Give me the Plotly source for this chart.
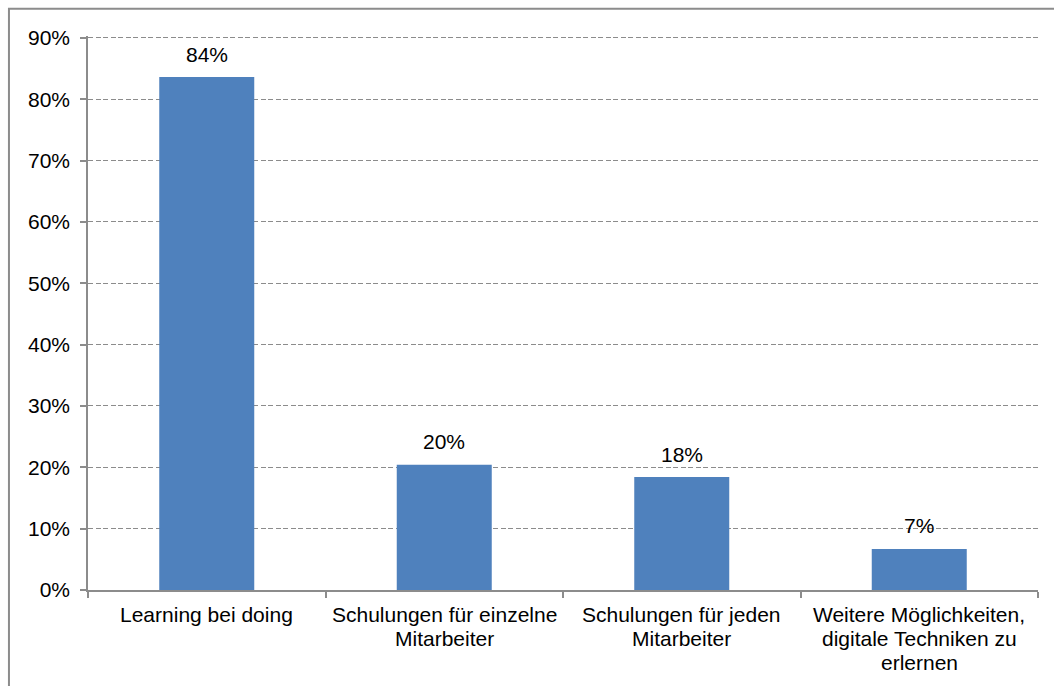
import plotly.graph_objects as go

# Survey answers: how employees acquire digital skills
categories = [
    "Learning bei doing",
    "Schulungen für einzelne Mitarbeiter",
    "Schulungen für jeden Mitarbeiter",
    "Weitere Möglichkeiten, digitale Techniken zu erlernen",
]
# wrapped category text, one entry per line
category_lines = [
    ["Learning bei doing"],
    ["Schulungen für einzelne", "Mitarbeiter"],
    ["Schulungen für jeden", "Mitarbeiter"],
    ["Weitere Möglichkeiten,", "digitale Techniken zu", "erlernen"],
]
shares = [0.836, 0.204, 0.184, 0.067]

y_ticks = [0, 0.1, 0.2, 0.3, 0.4, 0.5, 0.6, 0.7, 0.8, 0.9]
y_tick_labels = ["0%", "10%", "20%", "30%", "40%", "50%", "60%", "70%", "80%", "90%"]

FONT = "Arial, Liberation Sans, sans-serif"
AXIS_GREY = "#8c8c8c"
FONT_SIZE = 21
LINE_STEP = 24  # px between wrapped label lines

fig = go.Figure(
    go.Bar(
        x=categories,
        y=shares,
        marker=dict(color="#4F81BD", line=dict(width=0)),
        hoverinfo="skip",
    )
)

annotations = []
# value labels above each bar
for cat, val in zip(categories, shares):
    annotations.append(
        dict(
            x=cat,
            y=val,
            xref="x",
            yref="y",
            text=f"{val:.0%}",
            showarrow=False,
            yanchor="middle",
            yshift=23,
            font=dict(family=FONT, size=FONT_SIZE, color="#000000"),
        )
    )
# category labels below the axis, one annotation per text line
for cat, lines in zip(categories, category_lines):
    for i, line in enumerate(lines):
        annotations.append(
            dict(
                x=cat,
                y=0,
                xref="x",
                yref="y",
                text=line,
                showarrow=False,
                yanchor="middle",
                yshift=-(24 + LINE_STEP * i),
                font=dict(family=FONT, size=FONT_SIZE, color="#000000"),
            )
        )

fig.update_layout(
    width=1054,
    height=686,
    margin=dict(l=88, r=16, t=36, b=96),
    paper_bgcolor="white",
    plot_bgcolor="white",
    bargap=0.6,
    showlegend=False,
    font=dict(family=FONT, size=FONT_SIZE, color="#000000"),
    annotations=annotations,
    shapes=[
        # outer chart frame
        dict(
            type="rect",
            xref="paper",
            yref="paper",
            x0=-0.0832,
            x1=1.05,
            y0=-0.25,
            y1=1.049,
            line=dict(color=AXIS_GREY, width=2),
            fillcolor="rgba(0,0,0,0)",
            layer="below",
        )
    ],
)

fig.update_yaxes(
    range=[0, 0.903],
    tickvals=y_ticks,
    ticktext=y_tick_labels,
    showgrid=True,
    gridcolor=AXIS_GREY,
    griddash="5px,2.5px",
    gridwidth=1,
    showline=True,
    linecolor=AXIS_GREY,
    linewidth=1.5,
    ticks="outside",
    ticklen=6,
    tickcolor=AXIS_GREY,
    tickwidth=1.5,
    ticklabelstandoff=6,
    zeroline=False,
    tickfont=dict(family=FONT, size=FONT_SIZE, color="#000000"),
)

fig.update_xaxes(
    type="category",
    showline=True,
    linecolor=AXIS_GREY,
    linewidth=1.5,
    ticks="outside",
    tickson="boundaries",
    ticklen=6,
    tickcolor=AXIS_GREY,
    tickwidth=1.5,
    showgrid=False,
    showticklabels=False,
)

fig.write_html("out.html")
